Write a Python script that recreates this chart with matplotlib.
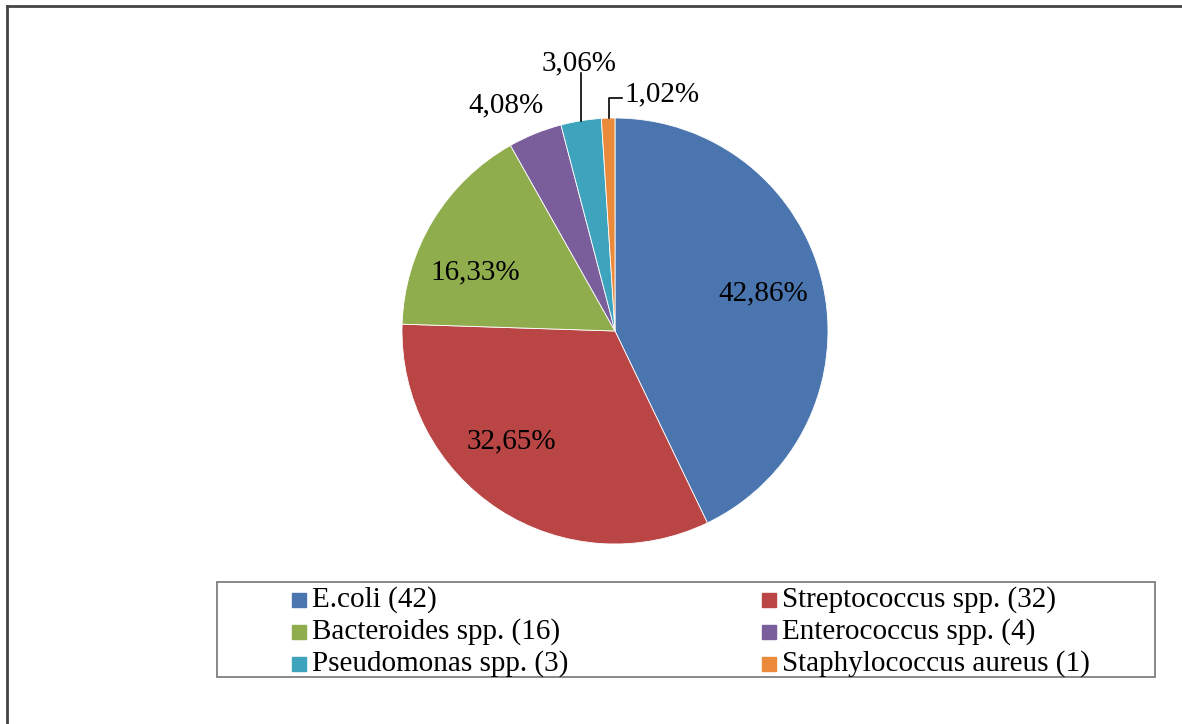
import matplotlib.pyplot as plt
from matplotlib.patches import Rectangle
from matplotlib.lines import Line2D

plt.rcParams['font.family'] = ['Liberation Serif', 'DejaVu Serif']

names = ['E.coli', 'Streptococcus spp.', 'Bacteroides spp.', 'Enterococcus spp.',
         'Pseudomonas spp.', 'Staphylococcus aureus']
counts = [42, 32, 16, 4, 3, 1]
pct_labels = ['42,86%', '32,65%', '16,33%', '4,08%', '3,06%', '1,02%']
colors = ['#4a75ae', '#b94545', '#90ad4e', '#7a5e9b', '#3ea3bd', '#ea8a3a']

# label spots (pie data units) picked to match the original layout
label_xy = [(0.697, 0.178), (-0.486, -0.518), (-0.655, 0.275),
            (-0.51, 1.06), (-0.168, 1.257), (0.22, 1.11)]

W, H = 1182, 724
fig = plt.figure(figsize=(W / 100, H / 100), dpi=100)

cx, cy, R = 615, H - 331, 213
ax = fig.add_axes([(cx - R) / W, (cy - R) / H, 2 * R / W, 2 * R / H])
wedges, _ = ax.pie(counts, colors=colors, startangle=90, counterclock=False,
                   radius=1, wedgeprops=dict(edgecolor='white', linewidth=0.6))
ax.set_xlim(-1, 1)
ax.set_ylim(-1, 1)
ax.set_aspect('equal')
ax.axis('off')

for lab, (x, y) in zip(pct_labels, label_xy):
    ax.text(x, y, lab, ha='center', va='center', fontsize=21, clip_on=False)

# leader lines for the two smallest slices
ax.add_line(Line2D([-0.16, -0.16], [0.987, 1.21], color='black', lw=1.2, clip_on=False))
ax.add_line(Line2D([-0.03, -0.03, 0.035], [0.999, 1.095, 1.095], color='black',
                   lw=1.2, clip_on=False))

# legend drawn by hand to match the boxed two-column layout
fig.patches.append(Rectangle((217 / W, 1 - 677 / H), (1155 - 217) / W, (677 - 582) / H,
                             transform=fig.transFigure, fill=False,
                             edgecolor='#7f7f7f', lw=1.3))
col_x = [292, 762]
row_y = [600, 632, 664]
for i, (n, c, col) in enumerate(zip(names, counts, colors)):
    mx = col_x[i % 2]
    my = row_y[i // 2]
    fig.patches.append(Rectangle((mx / W, 1 - (my + 7) / H), 14 / W, 14 / H,
                                 transform=fig.transFigure, color=col))
    fig.text((mx + 20) / W, 1 - my / H, f'{n} ({c})', fontsize=21, va='center',
             ha='left')

# outer frame (only top and left visible in the crop)
fig.add_artist(Line2D([7 / W, 1], [1 - 6 / H, 1 - 6 / H], transform=fig.transFigure,
                      color='#444444', lw=2))
fig.add_artist(Line2D([7 / W, 7 / W], [0, 1 - 6 / H], transform=fig.transFigure,
                      color='#444444', lw=2))

fig.savefig('out.png', dpi=100, facecolor='white')
